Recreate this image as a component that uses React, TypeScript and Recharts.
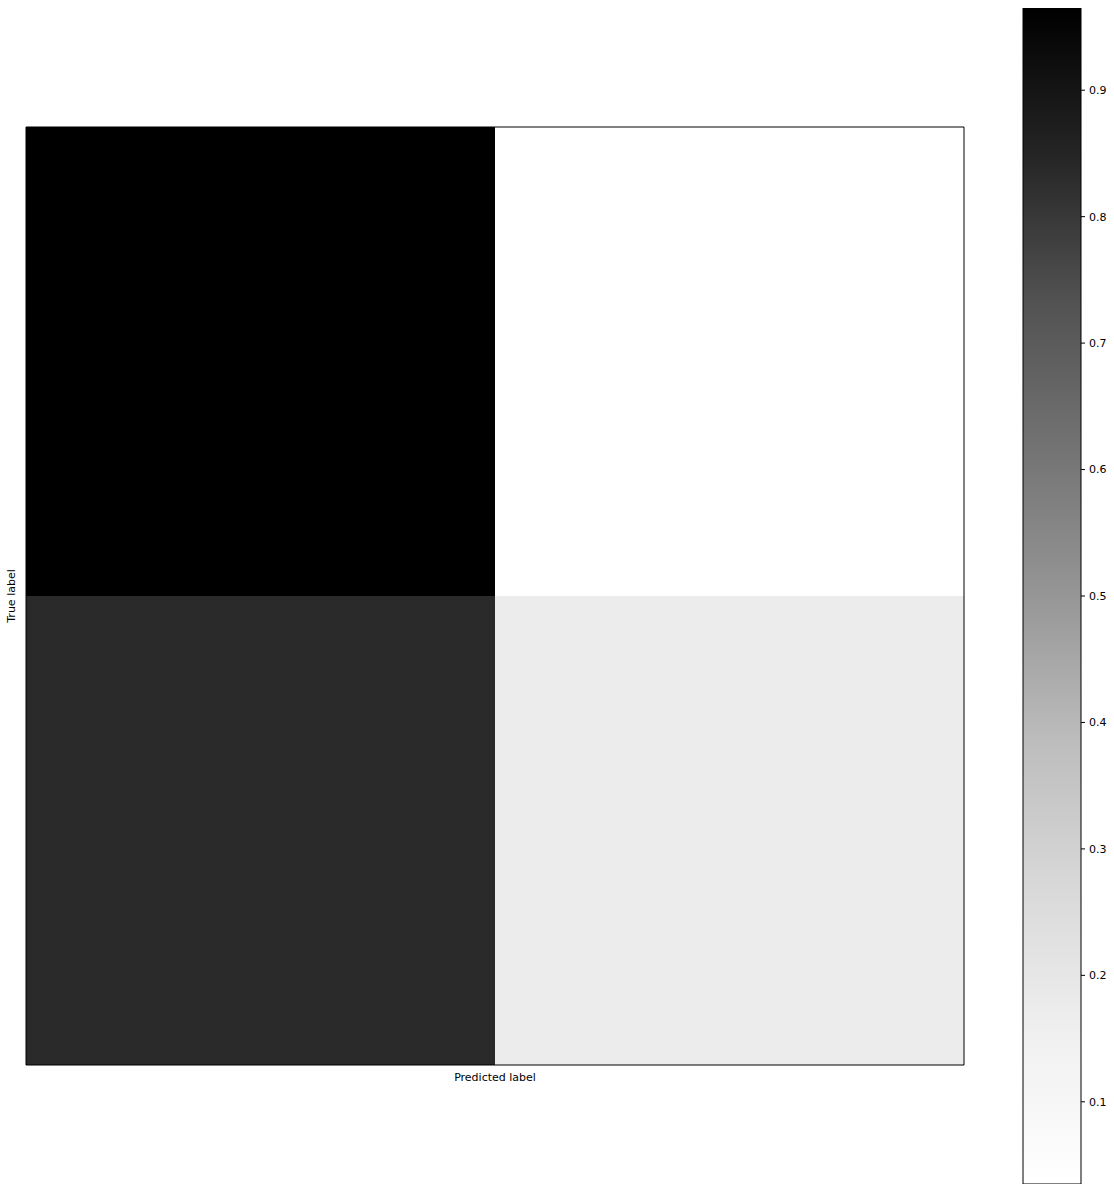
import React from "react";
import { BarChart, Bar, XAxis, YAxis, Cell } from "recharts";

// Confusion matrix (normalized), rows = true label, columns = predicted label
const predictedLabels = ["0", "1"];
const trueRow0 = [0.965, 0.035];
const trueRow1 = [0.835, 0.17];
const colorbarTicks = [0.1, 0.2, 0.3, 0.4, 0.5, 0.6, 0.7, 0.8, 0.9];

const allVals = [...trueRow0, ...trueRow1];
const vmin = Math.min(...allVals);
const vmax = Math.max(...allVals);

// matplotlib "Greys" colormap nodes
const greysNodes = [1, 0.9411764705882353, 0.8509803921568627, 0.7411764705882353, 0.5882352941176471, 0.45098039215686275, 0.3215686274509804, 0.1450980392156863, 0];

function greys(t: number): string {
  const c = Math.max(0, Math.min(1, t));
  const n = greysNodes.length - 1;
  const pos = c * n;
  const i = Math.min(Math.floor(pos), n - 1);
  const f = pos - i;
  const v = greysNodes[i] + (greysNodes[i + 1] - greysNodes[i]) * f;
  const g = Math.round(v * 255);
  return `rgb(${g},${g},${g})`;
}
const colorOf = (v: number) => greys((v - vmin) / (vmax - vmin));

const unitCell = 1;
const matrixData = predictedLabels.map((p, j) => ({
  pred: p,
  row1: unitCell,
  row0: unitCell,
  v0: trueRow0[j],
  v1: trueRow1[j],
}));

const colorbarData = [{ name: "cb", range: [vmin, vmax] }];

const FONT = "'DejaVu Sans', sans-serif";

const TrueLabel = (props: any) => {
  const vb = props.viewBox || {};
  const cx = vb.x + (vb.width || 0) - 15;
  const cy = vb.y + vb.height / 2;
  return (
    <text
      x={cx}
      y={cy}
      transform={`rotate(-90 ${cx} ${cy})`}
      textAnchor="middle"
      dominantBaseline="central"
      fontSize={11}
      fontFamily={FONT}
      fill="#000"
    >
      True label
    </text>
  );
};

const PredLabel = (props: any) => {
  const vb = props.viewBox || {};
  const cx = vb.x + vb.width / 2;
  const cy = vb.y + 12;
  return (
    <text x={cx} y={cy} textAnchor="middle" dominantBaseline="central" fontSize={11} fontFamily={FONT} fill="#000">
      Predicted label
    </text>
  );
};

export default function App() {
  // gradient from top (vmax, dark) to bottom (vmin, light); offsets ascending
  const stops = greysNodes.map((_, k) => {
    const t = 1 - k / (greysNodes.length - 1);
    return { offset: `${(k / (greysNodes.length - 1)) * 100}%`, color: greys(t) };
  });
  return (
    <div style={{ position: "absolute", left: 0, top: 0, width: 1114, height: 1192, background: "#fff", fontFamily: FONT }}>
      <svg width={0} height={0} style={{ position: "absolute" }}>
        <defs>
          <linearGradient id="greysGrad" x1="0" y1="0" x2="0" y2="1">
            {stops.map((s, k) => (
              <stop key={k} offset={s.offset} stopColor={s.color} />
            ))}
          </linearGradient>
        </defs>
      </svg>
      <div style={{ position: "absolute", left: 0, top: 0 }}>
        <BarChart
          width={1000}
          height={1192}
          data={matrixData}
          margin={{ left: 25, top: 126, right: 35, bottom: 126 }}
          barCategoryGap={0}
          barGap={0}
        >
          <Bar dataKey="row1" stackId="m" xAxisId="b" yAxisId="l" isAnimationActive={false}>
            {matrixData.map((d, i) => (
              <Cell key={`r1-${i}`} fill={colorOf(d.v1)} />
            ))}
          </Bar>
          <Bar dataKey="row0" stackId="m" xAxisId="b" yAxisId="l" isAnimationActive={false}>
            {matrixData.map((d, i) => (
              <Cell key={`r0-${i}`} fill={colorOf(d.v0)} />
            ))}
          </Bar>
          <XAxis dataKey="pred" xAxisId="b" tick={false} tickLine={false} height={1} axisLine={{ stroke: "#000" }} label={<PredLabel />} />
          <XAxis dataKey="pred" xAxisId="t" orientation="top" tick={false} tickLine={false} height={1} axisLine={{ stroke: "#000" }} />
          <YAxis yAxisId="l" type="number" domain={[0, 2]} tick={false} tickLine={false} width={1} axisLine={{ stroke: "#000" }} label={<TrueLabel />} />
          <YAxis yAxisId="r" orientation="right" type="number" domain={[0, 2]} tick={false} tickLine={false} width={1} axisLine={{ stroke: "#000" }} />
        </BarChart>
      </div>
      <div style={{ position: "absolute", left: 1000, top: 0 }}>
        <BarChart
          width={114}
          height={1192}
          data={colorbarData}
          margin={{ left: 23, top: 8, right: 0, bottom: 8 }}
          barCategoryGap={0}
        >
          <XAxis dataKey="name" hide />
          <Bar dataKey="range" fill="url(#greysGrad)" stroke="#000" strokeWidth={1} isAnimationActive={false} />
          <YAxis
            orientation="right"
            type="number"
            domain={[vmin, vmax]}
            ticks={colorbarTicks}
            allowDataOverflow
            width={33}
            tickSize={4}
            tickMargin={4}
            axisLine={false}
            tickLine={{ stroke: "#000" }}
            tick={{ fontSize: 11, fontFamily: FONT, fill: "#000" }}
            tickFormatter={(v: number) => `${Math.round(v * 10) / 10}`}
          />
        </BarChart>
      </div>
    </div>
  );
}
